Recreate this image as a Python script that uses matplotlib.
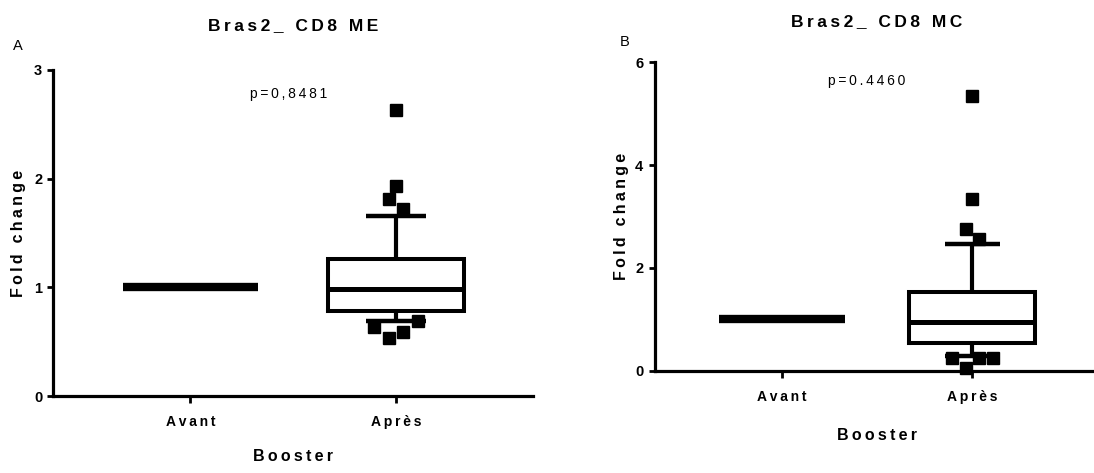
import matplotlib
matplotlib.use("Agg")
import matplotlib.pyplot as plt

plt.rcParams['font.family'] = ['Liberation Sans', 'DejaVu Sans']

# ---------------- data ----------------
categories = ["Avant", "Après"]
xlabel_text = "Booster"
ylabel_text = "Fold change"

titleA = "Bras2_ CD8 ME"
pA = "p=0,8481"
yticksA = [0, 1, 2, 3]
avantA = {"whislo": 1.0, "q1": 1.0, "med": 1.0, "q3": 1.0, "whishi": 1.0}
apresA = {"whislo": 0.693, "q1": 0.785, "med": 0.984, "q3": 1.260, "whishi": 1.656}
outliersA = [2.631, 1.932, 1.815, 1.720, 0.690, 0.635, 0.589, 0.534]
slotsA = [0, 0, -0.5, 0.5, 1.5, -1.5, 0.5, -0.5]

titleB = "Bras2_ CD8 MC"
pB = "p=0.4460"
yticksB = [0, 2, 4, 6]
avantB = {"whislo": 1.0, "q1": 1.0, "med": 1.0, "q3": 1.0, "whishi": 1.0}
apresB = {"whislo": 0.286, "q1": 0.533, "med": 0.942, "q3": 1.525, "whishi": 2.465}
outliersB = [5.35, 3.335, 2.751, 2.562, 0.253, 0.253, 0.253, 0.047]
slotsB = [0, 0, -0.5, 0.5, -1.5, 0.5, 1.5, -0.5]


def spaced(s):
    return "\u2009".join(s)


W, H = 1094, 473
fig = plt.figure(figsize=(W / 100, H / 100), dpi=100)

SLOT = 0.071
LW_SPINE = 2.3


def panel(rect, title, ptext, ppos, yticks, avant, apres, outliers, slots, label_x, xlab_y, title_y):
    ax = fig.add_axes(rect)
    ax.set_xlim(-2 / 3, 1 + 2 / 3)
    ax.set_ylim(yticks[0], yticks[-1])
    # Avant: collapsed box (all values identical) -> thick flat bar
    ax.bxp([dict(avant, fliers=[])], positions=[0], widths=0.66, showcaps=False,
           boxprops=dict(color="black", linewidth=0),
           medianprops=dict(color="black", linewidth=6, solid_capstyle="butt"),
           whiskerprops=dict(color="black", linewidth=0), manage_ticks=False)
    # Après box
    ax.bxp([dict(apres, fliers=[])], positions=[1], widths=0.66, capwidths=0.29,
           boxprops=dict(color="black", linewidth=2.9, solid_joinstyle="miter"),
           medianprops=dict(color="black", linewidth=3.6, solid_capstyle="butt"),
           whiskerprops=dict(color="black", linewidth=3.0, solid_capstyle="butt"),
           capprops=dict(color="black", linewidth=3.2, solid_capstyle="butt"),
           manage_ticks=False)
    xs = [1 + s * SLOT for s in slots]
    ax.plot(xs, outliers, linestyle="none", marker="s", markersize=8.0,
            color="black", zorder=5, clip_on=False)

    for sp in ("top", "right"):
        ax.spines[sp].set_visible(False)
    for sp in ("left", "bottom"):
        ax.spines[sp].set_linewidth(LW_SPINE)
    ax.set_xticks([0, 1])
    ax.set_xticklabels([spaced(c) for c in categories], fontsize=10, fontweight="bold")
    ax.set_yticks(yticks)
    ax.set_yticklabels([str(t) for t in yticks], fontsize=10.5, fontweight="bold")
    ax.tick_params(axis="x", length=5, width=2, pad=9)
    ax.tick_params(axis="y", length=4.5, width=2, pad=3.5)

    ax.set_ylabel(spaced(ylabel_text), fontsize=11.5, fontweight="bold", va="center")
    ax.yaxis.set_label_coords(label_x, 0.5)
    ax.set_xlabel(spaced(xlabel_text), fontsize=11.5, fontweight="bold", va="center")
    ax.xaxis.set_label_coords(0.5, xlab_y)
    ax.set_title(spaced(title), fontsize=12.5, fontweight="bold", y=title_y, va="center", pad=0)
    ax.text(ppos[0], ppos[1], spaced(ptext), fontsize=10, ha="center", va="center")
    return ax


axA = panel([53.3 / W, 77 / H, 479.7 / W, 326 / H], titleA, pA, (0.48, 2.78), yticksA,
            avantA, apresA, outliersA, slotsA, -0.073, -0.187, 1.135)
axB = panel([654.6 / W, 102.3 / H, 444.8 / W, 308.4 / H], titleB, pB, (0.445, 5.64), yticksB,
            avantB, apresB, outliersB, slotsB, -0.0755, -0.2085, 1.132)

fig.text(17.5 / W, 1 - 46 / H, "A", fontsize=10.5, ha="center", va="center")
fig.text(625 / W, 1 - 42.5 / H, "B", fontsize=10.5, ha="center", va="center")

fig.savefig("out.png", dpi=100)
